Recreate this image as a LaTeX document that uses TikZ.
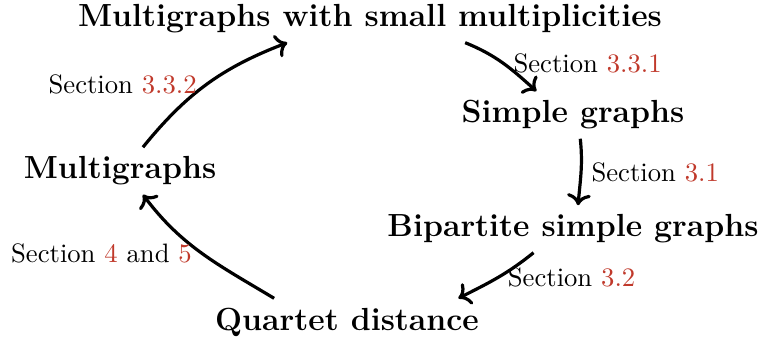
\documentclass[tikz,border=0pt]{standalone}
\usepackage{xcolor}
\usepackage{tikz}
\usetikzlibrary{arrows.meta}
\definecolor{secred}{RGB}{192, 57, 43}
\tikzstyle{topic} = [font=\large\bfseries]
\tikzstyle{arrow} = [->, very thick]
\newcommand{\secnum}[1]{\textcolor{secred}{#1}}

\begin{document}
\begin{tikzpicture}
    \useasboundingbox (0, 0) rectangle (10.011, 4.471);

    % Problems
    \node[topic] (small) at (4.880, 4.221) {Multigraphs with small multiplicities};
    \node[topic] (simple) at (7.558, 2.955) {Simple graphs};
    \node[topic] (bip) at (7.558, 1.451) {Bipartite simple graphs};
    \node[topic] (quartet) at (4.577, 0.224) {Quartet distance};
    \node[topic] (multi) at (1.583, 2.216) {Multigraphs};

    % Reductions
    \draw[arrow] (small.-14) to[out=-22, in=138] node[midway, right] {Section \secnum{3.3.1}} (simple.147);
    \draw[arrow] (simple.-73) to[out=-84, in=85] node[midway, right] {Section \secnum{3.1}} (bip.78);
    \draw[arrow] (bip.211) to[out=219, in=27] node[midway, right] {Section \secnum{3.2}} (quartet.12);
    \draw[arrow] (quartet.162) to[out=149, in=-53] node[midway, left] {Section \secnum{4} and \secnum{5}} (multi.-46);
    \draw[arrow] (multi.46) to[out=51, in=201] node[midway, left] {Section \secnum{3.3.2}} (small.196);
\end{tikzpicture}
\end{document}
